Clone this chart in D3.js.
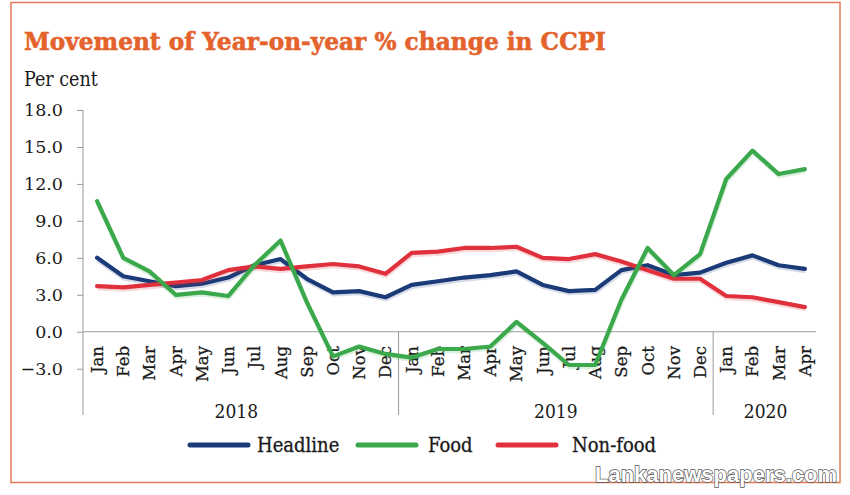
<!DOCTYPE html>
<html>
<head>
<meta charset="utf-8">
<script src="https://cdn.jsdelivr.net/npm/d3@7"></script>
<style>
  body { margin: 0; background: #fff; }
  svg text { font-family: "DejaVu Serif Condensed", "DejaVu Serif", serif; fill: #1a1a1a; }
</style>
</head>
<body>
<script>
// month labels along the x axis, Jan 2018 .. Apr 2020
var months = ["Jan","Feb","Mar","Apr","May","Jun","Jul","Aug","Sep","Oct","Nov","Dec",
              "Jan","Feb","Mar","Apr","May","Jun","Jul","Aug","Sep","Oct","Nov","Dec",
              "Jan","Feb","Mar","Apr"];
var years = ["2018", "2019", "2020"];
var year_counts = [12, 12, 4];

// values
var headline = [6.0, 4.5, 4.1, 3.7, 3.9, 4.4, 5.4, 5.9, 4.3, 3.2, 3.3, 2.8,
                3.8, 4.1, 4.4, 4.6, 4.9, 3.8, 3.3, 3.4, 5.0, 5.4, 4.6, 4.8,
                5.6, 6.2, 5.4, 5.1];
var food = [10.6, 6.0, 4.9, 3.0, 3.2, 2.9, 5.4, 7.4, 2.4, -2.0, -1.2, -1.8,
            -2.1, -1.4, -1.4, -1.2, 0.8, -0.9, -2.7, -2.7, 2.6, 6.8, 4.6, 6.3,
            12.4, 14.7, 12.8, 13.2];
var non_food = [3.7, 3.6, 3.8, 4.0, 4.2, 5.0, 5.3, 5.1, 5.3, 5.5, 5.3, 4.7,
                6.4, 6.5, 6.8, 6.8, 6.9, 6.0, 5.9, 6.3, 5.7, 5.0, 4.3, 4.3,
                2.9, 2.8, 2.4, 2.0];

var y_ticks = [-3, 0, 3, 6, 9, 12, 15, 18];

var series = [
    {name: "Headline", values: headline, color: "#1b3a78"},
    {name: "Food", values: food, color: "#3aa84b"},
    {name: "Non-food", values: non_food, color: "#e0303c"}
];

var width = 850, height = 495;
var svg = d3.select("body").append("svg")
    .attr("width", width)
    .attr("height", height);

// orange frame
svg.append("rect")
    .attr("x", 11).attr("y", 2.5)
    .attr("width", 829).attr("height", 480)
    .attr("fill", "none")
    .attr("stroke", "#e57a55")
    .attr("stroke-width", 1.5);

svg.append("text")
    .attr("x", 24).attr("y", 50)
    .attr("textLength", 582)
    .attr("lengthAdjust", "spacingAndGlyphs")
    .style("font-family", "'DejaVu Serif', serif")
    .style("font-weight", "bold")
    .style("font-size", "25px")
    .style("fill", "#e4632c")
    .style("stroke", "#e4632c")
    .style("stroke-width", 0.6)
    .text("Movement of Year-on-year % change in CCPI");

svg.append("text")
    .attr("x", 24).attr("y", 86)
    .style("font-size", "19.5px")
    .text("Per cent");

var x = d3.scaleBand()
    .domain(d3.range(months.length))
    .range([84, 818]);

var y = d3.scaleLinear()
    .domain([-3, 18])
    .range([368.7, 110]);

function cx(i) { return x(i) + x.bandwidth() / 2; }

// y axis
var y_axis = svg.append("g")
    .attr("transform", "translate(83,0)")
    .call(d3.axisLeft(y).tickValues(y_ticks).tickSize(6).tickPadding(14)
        .tickFormat(d3.format(".1f")));
y_axis.select(".domain").remove();
y_axis.selectAll(".tick line").attr("stroke", "#9a9a9a");
y_axis.selectAll(".tick text")
    .style("font-size", "17.5px")
    .style("font-family", "'DejaVu Serif', serif")
    .attr("fill", "#1a1a1a");

svg.append("line")
    .attr("x1", 83).attr("x2", 83)
    .attr("y1", y(18)).attr("y2", 415)
    .attr("stroke", "#9a9a9a");

// zero line
svg.append("line")
    .attr("x1", 83).attr("x2", 816)
    .attr("y1", y(0)).attr("y2", y(0))
    .attr("stroke", "#9a9a9a").attr("stroke-width", 1.2);

// year separators and labels
var start = 0;
years.forEach(function(yr, k) {
    var first = start, last = start + year_counts[k] - 1;
    if (k > 0) {
        var sx = x(first);
        svg.append("line")
            .attr("x1", sx).attr("x2", sx)
            .attr("y1", y(0)).attr("y2", 415)
            .attr("stroke", "#9a9a9a");
    }
    svg.append("text")
        .attr("x", (cx(first) + cx(last)) / 2 - (k === 0 ? 5 : 0))
        .attr("y", 418)
        .attr("text-anchor", "middle")
        .style("font-size", "19px")
        .text(yr);
    start += year_counts[k];
});

// month labels, rotated
svg.append("g").selectAll("text")
    .data(months).enter().append("text")
    .attr("transform", function(d, i) { return "translate(" + cx(i) + ",346) rotate(-90)"; })
    .attr("text-anchor", "end")
    .attr("dy", "0.36em")
    .style("font-family", "'DejaVu Serif', serif")
    .style("font-size", "16.5px")
    .style("stroke", "#1a1a1a")
    .style("stroke-width", 0.3)
    .text(function(d) { return d; });

// lines
var line = d3.line()
    .x(function(d, i) { return cx(i); })
    .y(function(d) { return y(d); });

var draw_order = [series[0], series[2], series[1]];
draw_order.forEach(function(s) {
    svg.append("path")
        .attr("d", line(s.values))
        .attr("transform", "translate(0.5,2)")
        .attr("fill", "none")
        .attr("stroke", s.color)
        .attr("stroke-opacity", 0.18)
        .attr("stroke-width", 4.5)
        .attr("stroke-linejoin", "round");
    svg.append("path")
        .attr("d", line(s.values))
        .attr("fill", "none")
        .attr("stroke", s.color)
        .attr("stroke-width", 4.2)
        .attr("stroke-linejoin", "round")
        .attr("stroke-linecap", "round");
});

// legend
var legend_pos = [
    {x1: 190, x2: 248, tx: 257},
    {x1: 358, x2: 416, tx: 428},
    {x1: 498, x2: 556, tx: 572}
];
series.forEach(function(s, i) {
    var p = legend_pos[i];
    svg.append("line")
        .attr("x1", p.x1).attr("x2", p.x2)
        .attr("y1", 445).attr("y2", 445)
        .attr("stroke", s.color)
        .attr("stroke-width", 5)
        .attr("stroke-linecap", "round");
    svg.append("text")
        .attr("x", p.tx).attr("y", 452)
        .style("font-size", "20px")
        .style("stroke", "#1a1a1a")
        .style("stroke-width", 0.3)
        .text(s.name);
});

// watermark
svg.append("text")
    .attr("x", 595).attr("y", 482)
    .attr("textLength", 242)
    .attr("lengthAdjust", "spacingAndGlyphs")
    .style("font-family", "'Liberation Sans', sans-serif")
    .style("font-weight", "bold")
    .style("font-size", "22px")
    .style("fill", "#ffffff")
    .style("stroke", "#555")
    .style("stroke-width", 1.4)
    .style("paint-order", "stroke")
    .text("Lankanewspapers.com");
</script>
</body>
</html>
